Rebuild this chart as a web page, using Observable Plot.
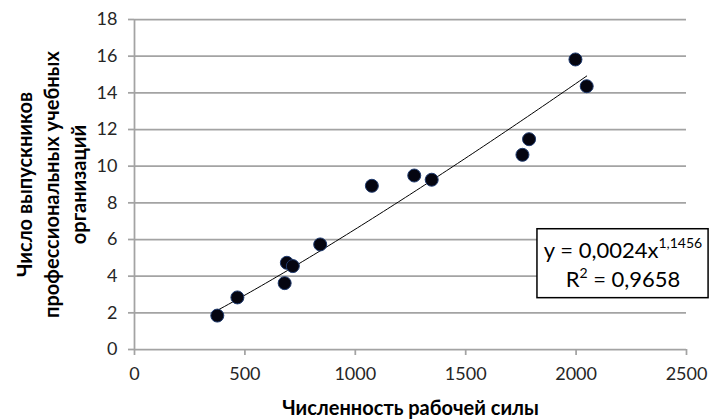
<!DOCTYPE html>
<html><head><meta charset="utf-8">
<script src="https://cdn.jsdelivr.net/npm/d3@7"></script>
<script src="https://cdn.jsdelivr.net/npm/@observablehq/plot@0.6"></script>
<style>html,body{margin:0;padding:0;background:#fff;}</style>
</head><body><div id="chart"></div>
<script>
// Data
const workforce = [375, 466, 680, 690, 717, 841, 1075, 1267, 1346, 1757, 1787, 1997, 2048];
const graduates = [1.85, 2.84, 3.62, 4.73, 4.55, 5.73, 8.93, 9.49, 9.26, 10.62, 11.47, 15.82, 14.36];
const xTicks = [0, 500, 1000, 1500, 2000, 2500];
const yTicks = [0, 2, 4, 6, 8, 10, 12, 14, 16, 18];
const xTitle = "Численность рабочей силы";
const yTitle = ["Число выпускников", "профессиональных учебных", "организаций"];
// Power trend line shown in the chart: y = a * x^b
const trendA = 0.0024;
const trendB = 1.1456;
const eqMain = "y = 0,0024x";
const eqSup = "1,1456";
const r2Main = "R";
const r2Sup = "2";
const r2Rest = " = 0,9658";
// Equation box extent in data units
const boxX = [1825, 2600];
const boxY = [2.8, 6.56];

const points = workforce.map((x, i) => ({x, y: graduates[i]}));
const xmin = d3.min(workforce), xmax = d3.max(workforce);
const trend = d3.range(0, 101).map(i => {
  const x = xmin + (xmax - xmin) * i / 100;
  return {x, y: trendA * Math.pow(x, trendB)};
});

const grid = "#a3a3a3";
const fmt = d => String(d);
const chart = Plot.plot({
  width: 710,
  height: 419,
  marginLeft: 134,
  marginRight: 24,
  marginTop: 19,
  marginBottom: 70,
  x: {domain: [0, 2500], label: null},
  y: {domain: [0, 18], label: null},
  style: {fontFamily: "Lato, sans-serif", fontSize: "18px", color: "#262626", background: "#fff", overflow: "visible"},
  marks: [
    Plot.ruleY(yTicks, {stroke: grid, strokeWidth: 1.75}),
    Plot.ruleX([0], {stroke: grid, strokeWidth: 1.75}),
    Plot.axisY(yTicks, {tickSize: 6, tickPadding: 11, stroke: grid, strokeWidth: 1.75, fontSize: 18, label: null, tickFormat: fmt}),
    Plot.axisX(xTicks, {tickSize: 6, tickPadding: 12, stroke: grid, strokeWidth: 1.75, fontSize: 18, label: null, tickFormat: fmt}),
    Plot.line(trend, {x: "x", y: "y", stroke: "#000", strokeWidth: 1}),
    Plot.dot(points, {x: "x", y: "y", r: 6.5, fill: "#050510", stroke: "#1f3a6e", strokeWidth: 1}),
    Plot.text([xTitle], {frameAnchor: "bottom", dy: 59, fontSize: 20, fontWeight: "bold", fill: "#000", lineAnchor: "middle"}),
    Plot.text([yTitle.join("\n")], {frameAnchor: "left", dx: -84, rotate: -90, textAnchor: "middle", fontSize: 20, fontWeight: "bold", fill: "#000", lineAnchor: "middle", lineHeight: 1.36}),
    Plot.rect([{}], {x1: () => boxX[0], x2: () => boxX[1], y1: () => boxY[0], y2: () => boxY[1], fill: "#fff", stroke: "#000", strokeWidth: 1.5}),
    Plot.text([eqMain], {x: () => (boxX[0] + boxX[1]) / 2, y: () => boxY[1] - (boxY[1] - boxY[0]) * 0.31, fontSize: 22, fill: "#000"}),
    Plot.text([r2Main + r2Rest], {x: () => (boxX[0] + boxX[1]) / 2, y: () => boxY[1] - (boxY[1] - boxY[0]) * 0.74, fontSize: 22, fill: "#000"})
  ]
});
document.getElementById("chart").appendChild(chart);

// Add superscripts as tspans
d3.select(chart).selectAll("text").each(function() {
  const t = d3.select(this);
  const s = this.textContent;
  if (s === eqMain) {
    t.text(null);
    t.append("tspan").text(eqMain);
    t.append("tspan").attr("font-size", 14).attr("dy", -10).text(eqSup);
  } else if (s === r2Main + r2Rest) {
    t.text(null);
    t.append("tspan").text(r2Main);
    t.append("tspan").attr("font-size", 14).attr("dy", -9).text(r2Sup);
    t.append("tspan").attr("dy", 9).text(r2Rest);
  }
});
</script>
</body></html>
